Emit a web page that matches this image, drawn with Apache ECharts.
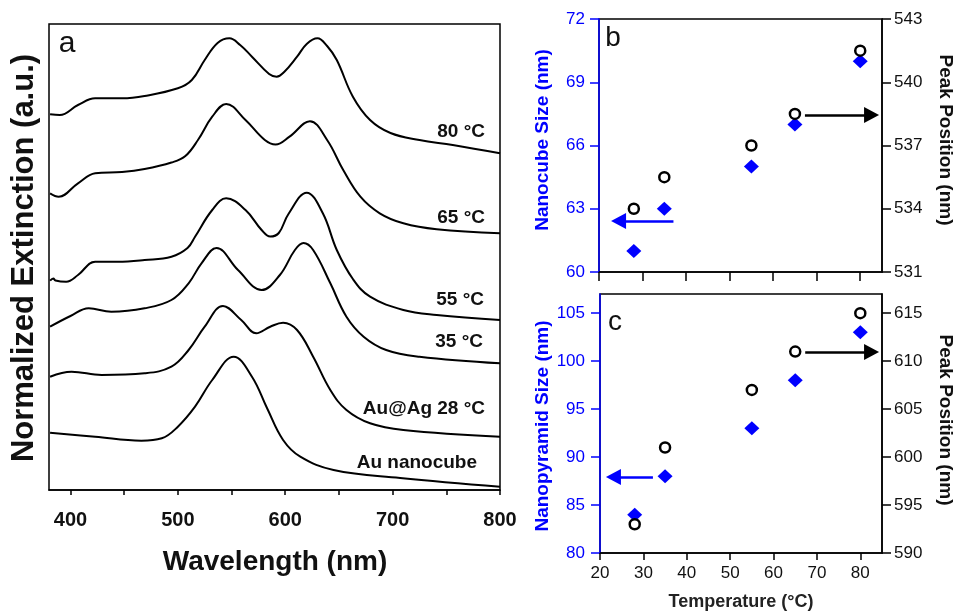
<!DOCTYPE html>
<html><head><meta charset="utf-8">
<script src="https://cdn.jsdelivr.net/npm/echarts@6/dist/echarts.min.js"></script>
<style>html,body{margin:0;padding:0;background:#fff}#c{width:956px;height:611px}</style>
</head><body><div id="c"></div><script>
const FONT = 'Arial, "Liberation Sans", sans-serif';
const BLUE = '#0000ff';

// ---- Panel a: extinction spectra [wavelength nm, offset extinction a.u.] ----
const spec80 = [[381,3.757],[390,3.75],[407,3.85],[423,3.917],[448,3.917],[469,3.94],[500,4.017],[513,4.10],[525,4.30],[537,4.47],[548,4.517],[558,4.45],[569,4.333],[585,4.16],[592,4.133],[599,4.18],[611,4.333],[620,4.46],[630,4.517],[639,4.44],[648,4.30],[663,3.933],[679,3.70],[698,3.57],[725,3.50],[756,3.45],[800,3.367]];
const spec65 = [[381,2.967],[389,2.933],[407,3.067],[423,3.167],[448,3.18],[469,3.21],[494,3.275],[507,3.34],[519,3.505],[532,3.733],[545,3.86],[563,3.70],[581,3.50],[591,3.455],[604,3.533],[623,3.687],[639,3.50],[654,3.20],[670,2.933],[688,2.767],[710,2.667],[741,2.607],[800,2.567]];
const spec55 = [[381,2.093],[384,2.115],[386,2.095],[396,2.083],[407,2.15],[423,2.283],[444,2.283],[469,2.30],[494,2.333],[509,2.42],[516,2.533],[532,2.80],[545,2.917],[563,2.80],[578,2.60],[586,2.535],[594,2.57],[603,2.76],[620,2.973],[635,2.767],[648,2.40],[663,2.11],[679,1.933],[710,1.80],[741,1.75],[800,1.70]];
const spec35 = [[381,1.633],[400,1.74],[417,1.817],[438,1.783],[469,1.817],[494,1.90],[510,2.067],[522,2.267],[536,2.42],[556,2.20],[578,2.00],[595,2.15],[609,2.40],[617,2.47],[626,2.40],[642,2.067],[657,1.733],[673,1.533],[694,1.40],[725,1.333],[800,1.267]];
const spec28 = [[381,1.133],[401,1.183],[429,1.15],[469,1.167],[494,1.233],[510,1.40],[525,1.633],[542,1.84],[559,1.70],[573,1.567],[586,1.633],[598,1.673],[611,1.60],[626,1.333],[642,1.00],[657,0.80],[679,0.667],[710,0.60],[800,0.533]];
const specAu = [[381,0.573],[423,0.533],[466,0.493],[485,0.517],[500,0.633],[516,0.833],[532,1.10],[552,1.333],[569,1.133],[583,0.82],[598,0.50],[614,0.333],[645,0.20],[707,0.12],[800,0.033]];
const curveLabels = ['80 °C','65 °C','55 °C','35 °C','Au@Ag 28 °C','Au nanocube'];
const wlTicks = [400,450,500,550,600,650,700,750,800];
const wlLabels = [400,500,600,700,800];

// ---- Panels b and c ----
const temps = [28,35,55,65,80];
const cubeSize = [61,63,65,67,70];
const cubePeak = [534,535.5,537,538.5,541.5];
const pyrSize = [84,88,93,98,103];
const pyrPeak = [593,601,607,611,615];
const tempTicks = [20,30,40,50,60,70,80];
const pyrSizeTicks = [80,85,90,95,100,105];
const pyrPeakTicks = [590,595,600,605,610,615];
// arrow annotations [tail, head centre] in data coordinates
const arrowCubeSize = [[37.1,62.42],[24.5,62.42]];
const arrowCubePeak = [[67.3,538.45],[82.6,538.45]];
const arrowPyrSize = [[32.2,87.92],[23.1,87.92]];
const arrowPyrPeak = [[67.3,610.95],[82.6,610.95]];

const chart = echarts.init(document.getElementById('c'));

function spectrum(d){
  return {type:'line', xAxisIndex:0, yAxisIndex:0, data:d, smooth:0.4, showSymbol:false,
    lineStyle:{color:'#000', width:2}, silent:true};
}
function arrow(d, color){
  return {silent:true, symbol:['none','triangle'], symbolSize:[16,15], label:{show:false},
    itemStyle:{color:color},
    lineStyle:{color:color, width:2.5, type:'solid', opacity:1},
    data:[[{coord:d[0]},{coord:d[1]}]]};
}
function text(t, x, y, font, fill, opts){
  return Object.assign({type:'text', x:x, y:y, silent:true,
    style:{text:t, font:font, fill:fill, align:'center', verticalAlign:'middle'}}, opts||{});
}
function rtext(t, x, y){
  return {type:'text', x:x, y:y, silent:true,
    style:{text:t, font:'bold 19px '+FONT, fill:'#111', align:'right', verticalAlign:'middle'}};
}
const lineAx = c => ({show:true, lineStyle:{color:c, width:1.5}});

const option = {
  animation:false,
  backgroundColor:'#fff',
  grid:[
    {left:49, top:24, width:451, height:466, show:true, borderColor:'#000', borderWidth:1.5},
    {left:599, top:19, width:283, height:253, show:true, borderColor:'#000', borderWidth:1.5},
    {left:600, top:294, width:282, height:259, show:true, borderColor:'#000', borderWidth:1.5}
  ],
  xAxis:[
    {gridIndex:0, type:'value', min:380, max:800, axisLine:lineAx('#000'),
      axisTick:{show:true, inside:false, length:5, customValues:wlTicks, lineStyle:{color:'#000', width:1.5}},
      axisLabel:{customValues:wlLabels, margin:20, color:'#111', fontFamily:FONT, fontWeight:'bold', fontSize:20},
      splitLine:{show:false}},
    {gridIndex:1, type:'value', min:20, max:85, axisLine:lineAx('#000'),
      axisTick:{show:true, inside:false, length:9, customValues:tempTicks, lineStyle:{color:'#000', width:1.5}},
      axisLabel:{show:false}, splitLine:{show:false}},
    {gridIndex:2, type:'value', min:20, max:85, axisLine:lineAx('#000'),
      axisTick:{show:true, inside:false, length:7, customValues:tempTicks, lineStyle:{color:'#000', width:1.5}},
      axisLabel:{customValues:tempTicks, margin:12, color:'#111', fontFamily:FONT, fontSize:17},
      splitLine:{show:false}}
  ],
  yAxis:[
    {gridIndex:0, type:'value', min:0, max:4.66, show:false},
    {gridIndex:1, type:'value', min:60, max:72, interval:3, position:'left', axisLine:lineAx(BLUE),
      axisTick:{show:true, inside:false, length:9, lineStyle:{color:BLUE, width:1.5}},
      axisLabel:{margin:14, color:BLUE, fontFamily:FONT, fontSize:17}, splitLine:{show:false}},
    {gridIndex:1, type:'value', min:531, max:543, interval:3, position:'right', axisLine:lineAx('#000'),
      axisTick:{show:true, inside:false, length:9, lineStyle:{color:'#000', width:1.5}},
      axisLabel:{margin:12, color:'#111', fontFamily:FONT, fontSize:17}, splitLine:{show:false}},
    {gridIndex:2, type:'value', min:80, max:107, position:'left', axisLine:lineAx(BLUE),
      axisTick:{show:true, inside:false, length:9, customValues:pyrSizeTicks, lineStyle:{color:BLUE, width:1.5}},
      axisLabel:{customValues:pyrSizeTicks, margin:15, color:BLUE, fontFamily:FONT, fontSize:17}, splitLine:{show:false}},
    {gridIndex:2, type:'value', min:590, max:617, position:'right', axisLine:lineAx('#000'),
      axisTick:{show:true, inside:false, length:9, customValues:pyrPeakTicks, lineStyle:{color:'#000', width:1.5}},
      axisLabel:{customValues:pyrPeakTicks, margin:12, color:'#111', fontFamily:FONT, fontSize:17}, splitLine:{show:false}}
  ],
  series:[
    spectrum(spec80), spectrum(spec65), spectrum(spec55), spectrum(spec35), spectrum(spec28), spectrum(specAu),
    {type:'scatter', xAxisIndex:1, yAxisIndex:1, data:temps.map((t,i)=>[t,cubeSize[i]]), symbol:'diamond',
      symbolSize:[15,14], itemStyle:{color:BLUE, opacity:1}, markLine:arrow(arrowCubeSize, BLUE), z:2},
    {type:'scatter', xAxisIndex:1, yAxisIndex:2, data:temps.map((t,i)=>[t,cubePeak[i]]), symbol:'circle',
      symbolSize:10, itemStyle:{color:'#fff', borderColor:'#000', borderWidth:2.5, opacity:1}, markLine:arrow(arrowCubePeak, '#000'), z:3},
    {type:'scatter', xAxisIndex:2, yAxisIndex:3, data:temps.map((t,i)=>[t,pyrSize[i]]), symbol:'diamond',
      symbolSize:[15,14], itemStyle:{color:BLUE, opacity:1}, markLine:arrow(arrowPyrSize, BLUE), z:2},
    {type:'scatter', xAxisIndex:2, yAxisIndex:4, data:temps.map((t,i)=>[t,pyrPeak[i]]), symbol:'circle',
      symbolSize:10, itemStyle:{color:'#fff', borderColor:'#000', borderWidth:2.5, opacity:1}, markLine:arrow(arrowPyrPeak, '#000'), z:3}
  ],
  graphic:[
    text('a', 67, 44, '30px '+FONT, '#111'),
    text('b', 613, 38, '28px '+FONT, '#111'),
    text('c', 615, 322, '28px '+FONT, '#111'),
    text('Wavelength (nm)', 275, 562, 'bold 28px '+FONT, '#111'),
    text('Normalized Extinction (a.u.)', 24, 258, 'bold 31px '+FONT, '#111', {rotation:Math.PI/2}),
    text('Nanocube Size (nm)', 543, 140, 'bold 19px '+FONT, BLUE, {rotation:Math.PI/2}),
    text('Peak Position (nm)', 945, 140, 'bold 19px '+FONT, '#111', {rotation:-Math.PI/2}),
    text('Nanopyramid Size (nm)', 543, 426, 'bold 19px '+FONT, BLUE, {rotation:Math.PI/2}),
    text('Peak Position (nm)', 945, 420, 'bold 19px '+FONT, '#111', {rotation:-Math.PI/2}),
    text('Temperature (°C)', 741, 602, 'bold 18px '+FONT, '#222'),
    rtext(curveLabels[0], 485, 132),
    rtext(curveLabels[1], 485, 218),
    rtext(curveLabels[2], 484, 300),
    rtext(curveLabels[3], 483, 342),
    rtext(curveLabels[4], 485, 409),
    rtext(curveLabels[5], 477, 463)
  ]
};
chart.setOption(option);
</script></body></html>
